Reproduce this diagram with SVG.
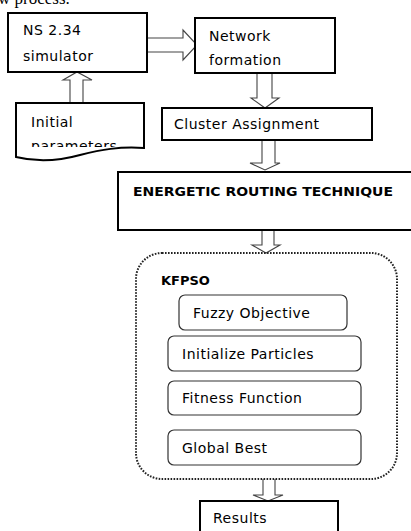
<svg xmlns="http://www.w3.org/2000/svg" width="411" height="531" viewBox="0 0 411 531">
<style>
.box{fill:#fff;stroke:#000;stroke-width:2}
.rbox{fill:#fff;stroke:#333;stroke-width:1.2}
.arr{fill:#fff;stroke:#444;stroke-width:1.1}
.t{font-family:"DejaVu Sans",sans-serif;font-size:14px;letter-spacing:0.5px;fill:#000}
.b{font-family:"DejaVu Sans",sans-serif;font-size:13px;font-weight:bold;fill:#000}
</style>
<defs>
<clipPath id="clipInit"><rect x="16" y="103" width="128" height="44"/></clipPath>
</defs>
<text x="-2" y="4" font-family="Liberation Serif,serif" font-size="17" fill="#000">w process.</text>
<g id="connectors">
<path class="arr" d="M147,38 H183 V30 L197,45 L183,60 V52 H147"/>
<path class="arr" d="M257,73 V98 H251 L265,108 L279,98 H272 V73"/>
<path class="arr" d="M70,103 V80 H63 L77,72 L92,80 H83 V103"/>
<path class="arr" d="M262,140 V163 H250 L265,170 L280,163 H275 V140"/>
<path class="arr" d="M262,230 V245 H252 L266,253 L280,245 H274 V230"/>
<path class="arr" d="M263,479 V495 H253 L268,501 L283,495 H275 V479"/>
</g>
<g id="ns">
<rect class="box" x="8" y="13" width="139" height="59"/>
<text class="t" x="23" y="35">NS 2.34</text>
<text class="t" x="23" y="61">simulator</text>
</g>
<g id="network">
<rect class="box" x="195" y="18" width="140" height="55"/>
<text class="t" x="209" y="41">Network</text>
<text class="t" x="209" y="65">formation</text>
</g>
<g id="initial">
<path class="box" d="M16,103 H144 V148 C120,146 100,150 80,155 C62,160 40,163 16,157 Z"/>
<text class="t" x="31" y="127">Initial</text>
<text class="t" x="31" y="151" clip-path="url(#clipInit)">parameters</text>
</g>
<g id="cluster">
<rect class="box" x="162" y="108" width="210" height="32"/>
<text class="t" x="174" y="129">Cluster Assignment</text>
</g>
<g id="energetic">
<rect class="box" x="118" y="172" width="300" height="58"/>
<text class="b" x="133" y="196" textLength="260" lengthAdjust="spacingAndGlyphs">ENERGETIC ROUTING TECHNIQUE</text>
</g>
<g id="kfpso">
<rect x="136" y="253" width="261" height="226" rx="26" fill="none" stroke="#222" stroke-width="2" stroke-dasharray="1.6 1.4"/>
<text class="b" x="161" y="285">KFPSO</text>
</g>
<g id="fuzzy">
<rect class="rbox" x="179" y="295" width="168" height="35" rx="6"/>
<text class="t" x="193" y="318">Fuzzy Objective</text>
</g>
<g id="initp">
<rect class="rbox" x="168" y="336" width="193" height="35" rx="6"/>
<text class="t" x="182" y="359">Initialize Particles</text>
</g>
<g id="fitness">
<rect class="rbox" x="168" y="381" width="193" height="34" rx="6"/>
<text class="t" x="182" y="403">Fitness Function</text>
</g>
<g id="gbest">
<rect class="rbox" x="168" y="430" width="193" height="35" rx="6"/>
<text class="t" x="182" y="453">Global Best</text>
</g>
<g id="results">
<rect class="box" x="200" y="501" width="138" height="40"/>
<text class="t" x="213" y="523">Results</text>
</g>
</svg>
